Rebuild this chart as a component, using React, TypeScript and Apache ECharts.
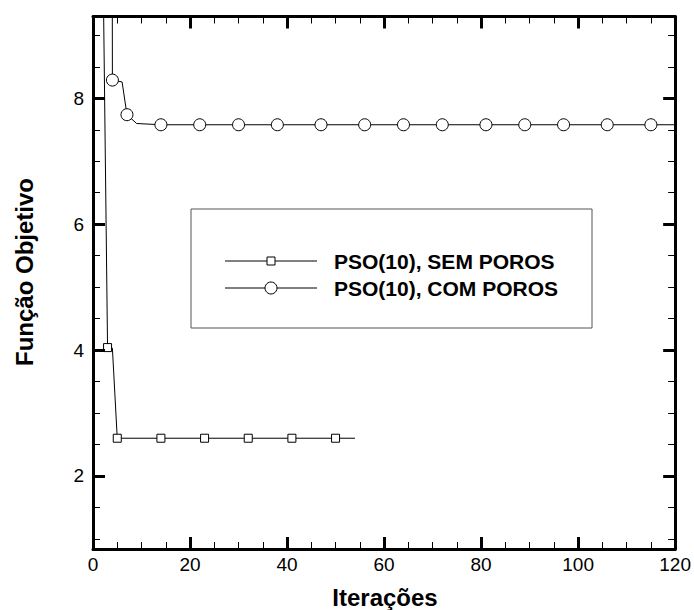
import React, { useEffect, useRef } from "react";
import * as echarts from "echarts";

// Data
const semIter = [2, 3, 4, 5, 14, 23, 32, 41, 50, 54];
const semVal = [10.6, 4.04, 4.03, 2.6, 2.6, 2.6, 2.6, 2.6, 2.6, 2.6];
const semMark = [false, true, false, true, true, true, true, true, true, false];

const comIter = [3, 4, 6, 7, 9, 14, 22, 30, 38, 47, 56, 64, 72, 81, 89, 97, 106, 115, 120];
const comVal = [60, 8.29, 8.26, 7.74, 7.6, 7.58, 7.58, 7.58, 7.58, 7.58, 7.58, 7.58, 7.58, 7.58, 7.58, 7.58, 7.58, 7.58, 7.58];
const comMark = [false, true, false, true, false, true, true, true, true, true, true, true, true, true, true, true, true, true, false];

const legendNames = ["PSO(10), SEM POROS", "PSO(10), COM POROS"];
const xTitle = "Iterações";
const yTitle = "Função Objetivo";

const yMajor = [2, 4, 6, 8];
const yMinor = [1, 1.5, 2.5, 3, 3.5, 4.5, 5, 5.5, 6.5, 7, 7.5, 8.5, 9];

const FONT = "Liberation Sans, Arial, Helvetica, sans-serif";

export default function App() {
  const ref = useRef<HTMLDivElement>(null);
  useEffect(() => {
    const chart = echarts.init(ref.current!, null, { renderer: "svg" });
    const yMin = 0.84;
    const yMax = 9.3;

    const xBase = (pos: string, labels: boolean) => ({
      type: "value",
      position: pos,
      min: 0,
      max: 120,
      interval: 20,
      z: 50,
      axisLine: { show: true, onZero: false, lineStyle: { color: "#000", width: 3 } },
      axisTick: { show: true, inside: true, length: 12, lineStyle: { color: "#000", width: 3 } },
      minorTick: { show: true, splitNumber: 4, length: 7, lineStyle: { color: "#000", width: 1 } },
      splitLine: { show: false },
      minorSplitLine: { show: false },
      axisLabel: { show: labels, color: "#000", fontSize: 19, fontFamily: FONT, margin: 6 },
    });
    const yBase = (pos: string, major: boolean, labels: boolean) => ({
      type: "value",
      position: pos,
      min: yMin,
      max: yMax,
      z: 50,
      axisLine: { show: major, onZero: false, lineStyle: { color: "#000", width: 3 } },
      axisTick: {
        show: true,
        inside: true,
        length: major ? 12 : 7,
        customValues: major ? yMajor : yMinor,
        lineStyle: { color: "#000", width: major ? 3 : 1 },
      },
      splitLine: { show: false },
      axisLabel: {
        show: labels,
        customValues: yMajor,
        color: "#000",
        fontSize: 19,
        fontFamily: FONT,
        margin: 9,
      },
    });

    const mkData = (xs: number[], ys: number[], marks: boolean[]) =>
      xs.map((x, i) => (marks[i] ? [x, ys[i]] : { value: [x, ys[i]], symbol: "none" }));

    const rowY = [261, 288];
    const legendGraphics: any[] = [
      {
        type: "rect",
        shape: { x: 191, y: 209, width: 401, height: 119 },
        style: { fill: "#fff", stroke: "#555", lineWidth: 1 },
        z: 10,
      },
    ];
    rowY.forEach((ry, i) => {
      legendGraphics.push({
        type: "line",
        shape: { x1: 225, y1: ry, x2: 317, y2: ry },
        style: { stroke: "#000", lineWidth: 1 },
        z: 11,
      });
      if (i === 0) {
        legendGraphics.push({
          type: "rect",
          shape: { x: 267, y: ry - 4, width: 8, height: 8 },
          style: { fill: "#fff", stroke: "#000", lineWidth: 1 },
          z: 12,
        });
      } else {
        legendGraphics.push({
          type: "circle",
          shape: { cx: 271, cy: ry, r: 6 },
          style: { fill: "#fff", stroke: "#000", lineWidth: 1 },
          z: 12,
        });
      }
      legendGraphics.push({
        type: "text",
        x: 334,
        y: ry,
        style: {
          text: legendNames[i],
          fontSize: 21,
          fontWeight: "bold",
          fontFamily: FONT,
          fill: "#000",
          verticalAlign: "middle",
          align: "left",
        },
        z: 12,
      });
    });

    chart.setOption({
      animation: false,
      grid: { left: 93, right: 18, top: 16.5, bottom: 61 },
      xAxis: [xBase("bottom", true), xBase("top", false)],
      yAxis: [
        yBase("left", true, true),
        yBase("left", false, false),
        yBase("right", true, false),
        yBase("right", false, false),
      ],
      graphic: [
        ...legendGraphics,
        {
          type: "text",
          x: 385,
          y: 597,
          style: {
            text: xTitle,
            fontSize: 24,
            fontWeight: "bold",
            fontFamily: FONT,
            fill: "#000",
            align: "center",
            verticalAlign: "middle",
          },
        },
        {
          type: "text",
          x: 24,
          y: 272,
          rotation: Math.PI / 2,
          style: {
            text: yTitle,
            fontSize: 24,
            fontWeight: "bold",
            fontFamily: FONT,
            fill: "#000",
            align: "center",
            verticalAlign: "middle",
          },
        },
      ],
      series: [
        {
          name: legendNames[0],
          type: "line",
          xAxisIndex: 0,
          yAxisIndex: 0,
          data: mkData(semIter, semVal, semMark),
          symbol: "rect",
          symbolSize: 8,
          showAllSymbol: true,
          clip: true,
          lineStyle: { color: "#000", width: 1 },
          itemStyle: { color: "#fff", borderColor: "#000", borderWidth: 1 },
          z: 3,
        },
        {
          name: legendNames[1],
          type: "line",
          xAxisIndex: 0,
          yAxisIndex: 0,
          data: mkData(comIter, comVal, comMark),
          symbol: "circle",
          symbolSize: 12,
          showAllSymbol: true,
          clip: true,
          lineStyle: { color: "#000", width: 1 },
          itemStyle: { color: "#fff", borderColor: "#000", borderWidth: 1 },
          z: 3,
        },
      ],
    });
    return () => chart.dispose();
  }, []);
  return (
    <div
      ref={ref}
      style={{ position: "absolute", left: 0, top: 0, width: 694, height: 610 }}
    />
  );
}
